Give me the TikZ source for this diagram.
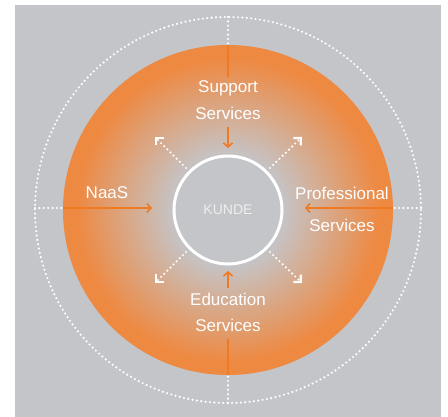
\documentclass[tikz,border=0pt]{standalone}
\usepackage{fontspec}
\setmainfont{Liberation Sans}
\usetikzlibrary{arrows.meta}
\definecolor{bggray}{HTML}{C4C5C9}
\definecolor{diskorange}{HTML}{EE8942}
\definecolor{lineorange}{HTML}{F07A22}
\definecolor{kundetext}{HTML}{EEEEEE}
\pgfdeclareradialshading{orangeglow}{\pgfpoint{0bp}{0bp}}{color(0bp)=(bggray); color(8bp)=(bggray); color(23bp)=(diskorange); color(25bp)=(diskorange); color(50bp)=(diskorange)}
\tikzset{
  dots/.style={white, line width=2.4pt, line cap=round, dash pattern=on 0pt off 4.4pt},
  feed/.style={lineorange, line width=1.6pt},
  feedarrow/.style={lineorange, line width=1.6pt, -{Straight Barb[length=4pt,width=9pt,line width=1.6pt]}},
  outarrow/.style={white, line width=2.4pt, line cap=round, dash pattern=on 0pt off 4.4pt, -{Straight Barb[angle=90:5pt 1, line width=2.2pt, line cap=butt]}},
  label/.style={white, font=\fontsize{17}{19}\selectfont, inner sep=0pt},
}
\begin{document}
\begin{tikzpicture}[x=1pt,y=-1pt]
\useasboundingbox (0,0) rectangle (448,417);
\fill[bggray] (15,5) rectangle (441,417);
\coordinate (C) at (228,210);
% outer dotted circle
\draw[dots] (C) circle[radius=193];
% radial dotted ticks
\coordinate (ot) at (228,17);  \coordinate (dt) at (228,45);
\coordinate (ob) at (228,403); \coordinate (db) at (228,375);
\coordinate (ol) at (35,208);  \coordinate (dl) at (63,208);
\coordinate (or) at (421,208); \coordinate (dr) at (393,208);
\draw[dots] (ot) -- (dt);
\draw[dots] (ob) -- (db);
\draw[dots] (ol) -- (dl);
\draw[dots] (or) -- (dr);
% orange disk
\shade[shading=orangeglow] (C) circle[radius=165];
% kunde circle
\node[draw=white, line width=3pt, circle, minimum size=108pt, inner sep=0pt,
      text=kundetext, font=\fontsize{14}{16}\selectfont] (K) at (C) {KUNDE};
% labels
\node[label] (sup1) at (228,88) {Support};
\node[label] (sup2) at (228,113) {Services};
\node[label] (naas) at (107,193) {NaaS};
\node[label] (pro1) at (342,193) {Professional};
\node[label] (pro2) at (342,225) {Services};
\node[label] (edu1) at (228,299) {Education};
\node[label] (edu2) at (228,325) {Services};
% orange connectors
\coordinate (ta) at (228,77);
\draw[feed] (dt) -- (ta);
\coordinate (tb) at (228,127); \coordinate (tc) at (228,148);
\draw[feedarrow] (tb) -- (tc);
\coordinate (la) at (152,208);
\draw[feedarrow] (dl) -- (la);
\coordinate (ra) at (305,208);
\draw[feedarrow] (dr) -- (ra);
\coordinate (ba) at (228,288); \coordinate (bb) at (228,271);
\draw[feedarrow] (ba) -- (bb);
\coordinate (bc) at (228,339);
\draw[feed] (bc) -- (db);
% diagonal dotted arrows
\coordinate (s1) at (270,168); \coordinate (e1) at (302,137);
\coordinate (s2) at (186,168); \coordinate (e2) at (155,137);
\coordinate (s3) at (186,252); \coordinate (e3) at (155,283);
\coordinate (s4) at (270,252); \coordinate (e4) at (302,283);
\draw[outarrow] (s1) -- (e1);
\draw[outarrow] (s2) -- (e2);
\draw[outarrow] (s3) -- (e3);
\draw[outarrow] (s4) -- (e4);
\end{tikzpicture}
\end{document}
